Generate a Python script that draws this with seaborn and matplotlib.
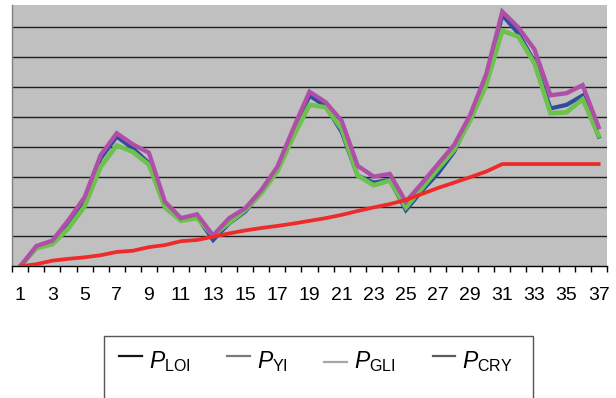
import matplotlib
matplotlib.use("Agg")
import matplotlib.pyplot as plt
from matplotlib.lines import Line2D
from matplotlib.patches import Rectangle
from matplotlib.legend_handler import HandlerLine2D
import numpy as np
import pandas as pd
import seaborn as sns

# sample index
steps = list(range(1, 38))

p_loi = [0.00, 0.64, 0.79, 1.49, 2.22, 3.61, 4.34, 3.95, 3.45, 2.02,
         1.55, 1.66, 0.88, 1.44, 1.83, 2.50, 3.22, 4.45, 5.71, 5.36,
         4.50, 3.03, 2.80, 2.89, 1.88, 2.53, 3.11, 3.83, 4.95, 6.23,
         8.41, 7.79, 6.85, 5.28, 5.40, 5.71, 4.34]
p_yi = [0.00, 0.07, 0.19, 0.25, 0.30, 0.37, 0.48, 0.52, 0.64, 0.71,
        0.84, 0.88, 0.99, 1.10, 1.20, 1.28, 1.35, 1.43, 1.52, 1.61,
        1.72, 1.85, 1.97, 2.08, 2.22, 2.42, 2.62, 2.80, 2.98, 3.17,
        3.42, 3.42, 3.42, 3.42, 3.42, 3.42, 3.42]
p_gli = [0.00, 0.60, 0.74, 1.27, 2.00, 3.33, 4.04, 3.83, 3.40, 1.97,
         1.52, 1.61, 1.03, 1.46, 1.88, 2.44, 3.17, 4.34, 5.40, 5.32,
         4.60, 3.03, 2.71, 2.87, 1.97, 2.61, 3.26, 3.89, 4.87, 6.06,
         7.88, 7.68, 6.79, 5.12, 5.15, 5.59, 4.37]
p_cry = [0.00, 0.68, 0.86, 1.55, 2.31, 3.72, 4.45, 4.08, 3.80, 2.16,
         1.61, 1.74, 1.03, 1.61, 1.94, 2.55, 3.33, 4.62, 5.84, 5.49,
         4.87, 3.36, 3.00, 3.09, 2.16, 2.78, 3.42, 4.06, 5.06, 6.43,
         8.52, 7.99, 7.26, 5.72, 5.79, 6.06, 4.65]

tick_labels = [str(s) for s in steps[::2]]
legend_labels = [r"$P_{\mathrm{LOI}}$", r"$P_{\mathrm{YI}}$",
                 r"$P_{\mathrm{GLI}}$", r"$P_{\mathrm{CRY}}$"]

plt.rcParams["font.family"] = ["Liberation Sans", "DejaVu Sans"]
plt.rcParams["mathtext.fontset"] = "custom"
plt.rcParams["mathtext.rm"] = "Liberation Sans"
plt.rcParams["mathtext.it"] = "Liberation Sans:italic"

df = pd.DataFrame({
    "step": steps * 4,
    "value": p_loi + p_gli + p_cry + p_yi,
    "series": ["LOI"] * 37 + ["GLI"] * 37 + ["CRY"] * 37 + ["YI"] * 37,
})

colors = {"LOI": "#2f4d9e", "GLI": "#6cc24a", "CRY": "#b04fa8", "YI": "#ee2a2a"}
widths = {"LOI": 3.0, "GLI": 3.3, "CRY": 3.1, "YI": 2.7}

fig = plt.figure(figsize=(6.16, 3.98), dpi=100)
ax = fig.add_axes([12.3 / 616, (398 - 266.3) / 398, (606.7 - 12.3) / 616, (266.3 - 5) / 398])
ax.set_facecolor("#c0c0c0")

for name in ["LOI", "GLI", "CRY", "YI"]:
    sns.lineplot(data=df[df["series"] == name], x="step", y="value",
                 color=colors[name], linewidth=widths[name], ax=ax,
                 legend=False, zorder=3, solid_joinstyle="miter")

ax.set_xlim(0.5, 37.5)
ax.set_ylim(0, 8.74)
ax.set_xlabel("")
ax.set_ylabel("")

# horizontal gridlines
ax.set_yticks(np.arange(1, 9))
ax.yaxis.grid(True, color="#1e1e1e", linewidth=1.0)
ax.set_axisbelow(True)
ax.tick_params(axis="y", left=False, labelleft=False)

# category boundary ticks, labels at every other category centre
ax.set_xticks(np.arange(0.5, 38, 1))
ax.set_xticklabels([])
ax.tick_params(axis="x", which="major", direction="out", length=4,
               width=1, color="black")
ax.set_xticks(steps[::2], minor=True)
ax.set_xticklabels(tick_labels, minor=True, fontsize=14)
ax.tick_params(axis="x", which="minor", length=0, pad=15)

for side in ["top", "right"]:
    ax.spines[side].set_visible(False)
ax.spines["left"].set_color("#808080")
ax.spines["left"].set_linewidth(1.0)
ax.spines["bottom"].set_color("black")
ax.spines["bottom"].set_linewidth(1.0)


class ShiftedLine(HandlerLine2D):
    def __init__(self, dy, **kw):
        super().__init__(**kw)
        self.dy = dy

    def create_artists(self, legend, orig_handle, xdescent, ydescent,
                       width, height, fontsize, trans):
        return super().create_artists(legend, orig_handle, xdescent,
                                      ydescent - self.dy, width, height,
                                      fontsize, trans)


handle_colors = ["#141414", "#7a7a7a", "#a6a6a6", "#5a5a5a"]
handles = [Line2D([], [], color=c, linewidth=1.6) for c in handle_colors]
handler_map = {handles[0]: ShiftedLine(6), handles[1]: ShiftedLine(6),
               handles[2]: ShiftedLine(-3), handles[3]: ShiftedLine(6)}

fig.patches.append(Rectangle((104 / 616, -20 / 398), (533 - 104) / 616,
                             (398 - 336 + 20) / 398, transform=fig.transFigure,
                             facecolor="white", edgecolor="#555555",
                             linewidth=1.0, zorder=0))
fig.legend(handles, legend_labels, handler_map=handler_map, ncol=4,
           loc="upper left", bbox_to_anchor=(119 / 616, 1 - 349 / 398),
           frameon=False, fontsize=16.5, handlelength=1.0, handletextpad=0.3,
           columnspacing=1.6, borderpad=0, borderaxespad=0)

fig.savefig("out.png", dpi=100)
